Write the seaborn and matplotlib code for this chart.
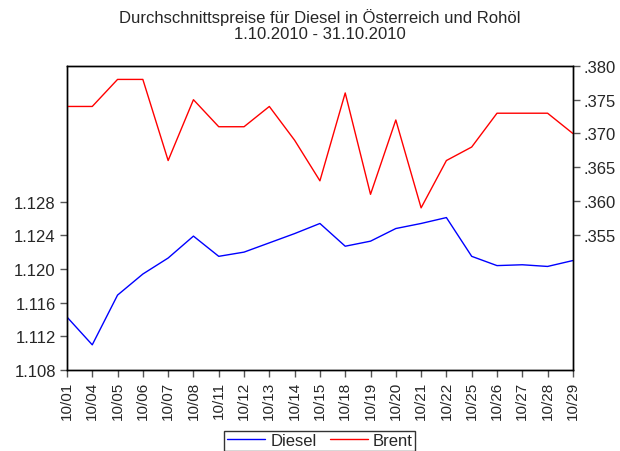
import matplotlib
matplotlib.use('Agg')
import matplotlib.pyplot as plt
import seaborn as sns

# Daten
dates = ['10/01', '10/04', '10/05', '10/06', '10/07', '10/08', '10/11', '10/12', '10/13',
         '10/14', '10/15', '10/18', '10/19', '10/20', '10/21', '10/22', '10/25', '10/26',
         '10/27', '10/28', '10/29']
diesel = [1.1143, 1.1110, 1.1169, 1.1194, 1.1213, 1.1239, 1.1215, 1.1220, 1.1231,
          1.1242, 1.1254, 1.1227, 1.1233, 1.1248, 1.1254, 1.1261, 1.1215, 1.1204,
          1.1205, 1.1203, 1.1210]
brent = [0.374, 0.374, 0.378, 0.378, 0.366, 0.375, 0.371, 0.371, 0.374,
         0.369, 0.363, 0.376, 0.361, 0.372, 0.359, 0.366, 0.368, 0.373,
         0.373, 0.373, 0.370]
left_ticks = [1.108, 1.112, 1.116, 1.120, 1.124, 1.128]
right_ticks = [0.355, 0.360, 0.365, 0.370, 0.375, 0.380]

sns.set_style('ticks')
plt.rcParams['font.family'] = ['Liberation Sans', 'DejaVu Sans']

fig = plt.figure(figsize=(6.2, 4.52), dpi=100)
ax = fig.add_axes([0.108, 0.179, 0.816, 0.673])
ax2 = ax.twinx()

pos = list(range(len(dates)))
sns.lineplot(x=pos, y=diesel, ax=ax, color='blue', lw=1, label='Diesel', legend=False)
sns.lineplot(x=pos, y=brent, ax=ax2, color='red', lw=1, label='Brent', legend=False)

ax.set_xlim(0, len(dates) - 1)
ax.set_ylim(1.108, 1.1441)
ax2.set_ylim(0.335, 0.380)

ax.set_xticks(pos)
ax.set_xticklabels(dates, rotation=90, fontsize=11)
ax.set_yticks(left_ticks)
ax.set_yticklabels([f'{v:.3f}' for v in left_ticks], fontsize=12)
ax2.set_yticks(right_ticks)
ax2.set_yticklabels([f'{v:.3f}'.lstrip('0') for v in right_ticks], fontsize=12)

for a in (ax, ax2):
    for s in a.spines.values():
        s.set_visible(True)
        s.set_color('black')
        s.set_linewidth(1)
    a.tick_params(direction='out', length=5, width=1, color='#555555', pad=3)

ax.set_title('Durchschnittspreise für Diesel in Österreich und Rohöl\n1.10.2010 - 31.10.2010',
             fontsize=12, pad=20, linespacing=1.1)

handles = ax.get_lines()[:1] + ax2.get_lines()[:1]
fig.legend(handles, ['Diesel', 'Brent'], loc='upper center', bbox_to_anchor=(0.516, 0.045),
           ncol=2, fontsize=12, frameon=True, fancybox=False, edgecolor='black',
           handlelength=2.3, columnspacing=0.8, borderpad=0.15, handletextpad=0.3,
           borderaxespad=0)

fig.savefig('out.png', dpi=100)
